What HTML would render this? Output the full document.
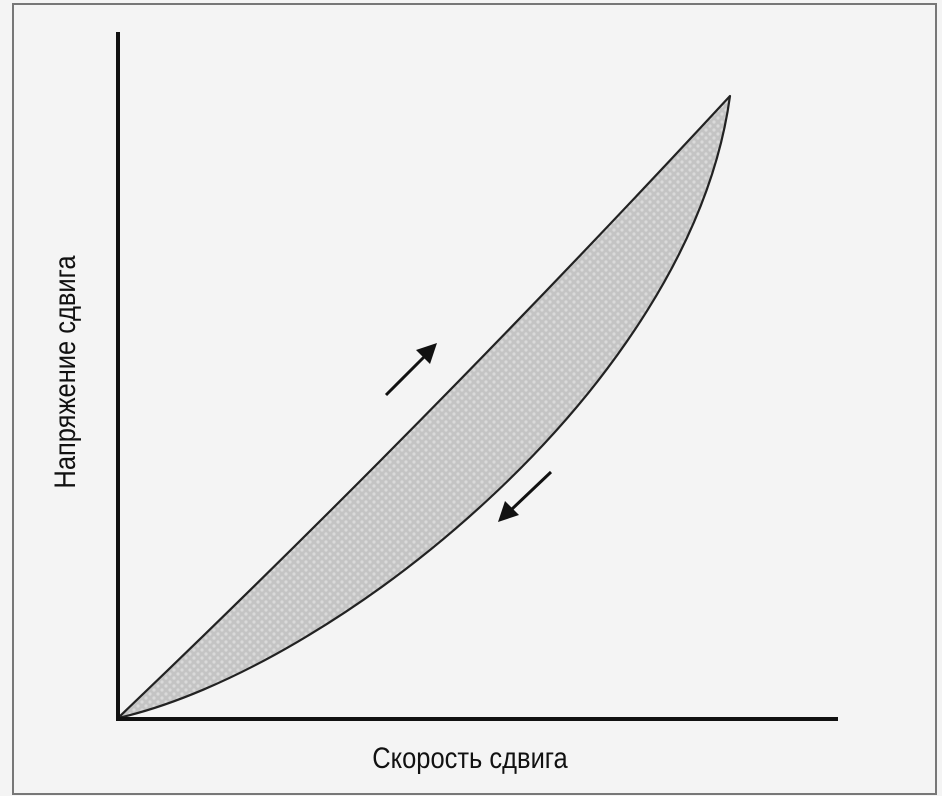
<!DOCTYPE html>
<html><head><meta charset="utf-8"><style>
html,body{margin:0;padding:0;background:#f3f3f3;}
svg{display:block}
</style></head><body>
<svg width="942" height="796" viewBox="0 0 942 796" xmlns="http://www.w3.org/2000/svg">
<defs>
<pattern id="dots" width="8" height="8" patternUnits="userSpaceOnUse">
<rect width="8" height="8" fill="#c4c4c4"/>
<circle cx="2" cy="2" r="1.6" fill="#dadada"/>
<circle cx="6" cy="6" r="1.6" fill="#dadada"/>
</pattern>
</defs>
<rect x="0" y="0" width="942" height="796" fill="#f4f4f4"/>
<rect x="13" y="4" width="923" height="790" fill="none" stroke="#777" stroke-width="2"/>
<path d="M118,718 Q430,420 730,96 C690,390 330,670 118,718 Z" fill="url(#dots)" stroke="#222" stroke-width="2.2" stroke-linejoin="round"/>
<line x1="118" y1="32" x2="118" y2="720" stroke="#111" stroke-width="4"/>
<line x1="116" y1="719" x2="838" y2="719" stroke="#111" stroke-width="4"/>
<line x1="386" y1="395" x2="425" y2="356" stroke="#111" stroke-width="3"/>
<polygon points="437,343 430,364 416,350" fill="#111"/>
<line x1="551" y1="472" x2="511" y2="510" stroke="#111" stroke-width="3"/>
<polygon points="498,522 505,501 519,515" fill="#111"/>
<text x="470" y="768" text-anchor="middle" font-family="Liberation Sans, DejaVu Sans, sans-serif" font-size="30" fill="#111" transform="translate(470 0) scale(0.85 1) translate(-470 0)">Скорость сдвига</text>
<text x="0" y="0" text-anchor="middle" font-family="Liberation Sans, DejaVu Sans, sans-serif" font-size="30" fill="#111" transform="translate(75 372) rotate(-90) scale(0.85 1)">Напряжение сдвига</text>
</svg>
</body></html>
